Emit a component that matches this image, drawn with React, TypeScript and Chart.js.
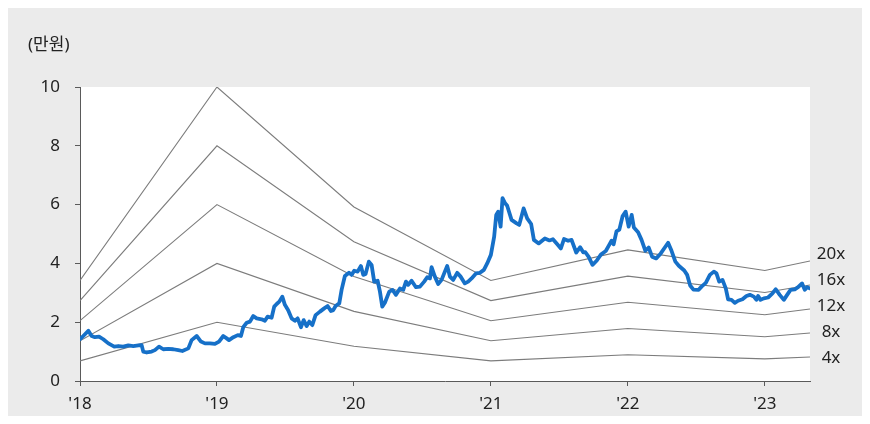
import React, { useEffect, useRef } from "react";
import { Chart, registerables } from "chart.js";

Chart.register(...registerables);

// Year ticks on x axis
const yearTicks = [2018, 2019, 2020, 2021, 2022, 2023];
const xMin = 2018;
const xMax = 2023.33;

// PER band multiples and EPS (만원) at band vertices
const bandMultiples = [4, 8, 12, 16, 20];
const bandYears = [2018.0, 2019.0, 2020.0, 2021.0, 2022.0, 2023.0, 2023.33];
const bandEps = [0.171, 0.5, 0.296, 0.171, 0.223, 0.188, 0.204];

// Share price (만원)
const priceYears = [
  2018.0, 2018.024, 2018.061, 2018.085, 2018.109, 2018.139, 2018.17, 2018.207, 2018.25, 2018.28,
  2018.316, 2018.353, 2018.389, 2018.426, 2018.45, 2018.462, 2018.487, 2018.523, 2018.547, 2018.577,
  2018.608, 2018.645, 2018.681, 2018.718, 2018.747, 2018.791, 2018.815, 2018.852, 2018.883, 2018.912,
  2018.949, 2018.985, 2019.015, 2019.046, 2019.071, 2019.088, 2019.12, 2019.152, 2019.175, 2019.192,
  2019.217, 2019.241, 2019.265, 2019.29, 2019.326, 2019.35, 2019.37, 2019.399, 2019.418, 2019.436,
  2019.455, 2019.477, 2019.496, 2019.52, 2019.545, 2019.569, 2019.589, 2019.613, 2019.633, 2019.655,
  2019.674, 2019.696, 2019.72, 2019.752, 2019.783, 2019.808, 2019.832, 2019.849, 2019.866, 2019.893,
  2019.91, 2019.934, 2019.964, 2019.983, 2020.002, 2020.027, 2020.051, 2020.068, 2020.085, 2020.109,
  2020.129, 2020.148, 2020.173, 2020.19, 2020.207, 2020.226, 2020.258, 2020.282, 2020.307, 2020.336,
  2020.36, 2020.38, 2020.396, 2020.421, 2020.453, 2020.482, 2020.513, 2020.535, 2020.555, 2020.567,
  2020.591, 2020.615, 2020.64, 2020.664, 2020.681, 2020.701, 2020.725, 2020.754, 2020.779, 2020.81,
  2020.834, 2020.859, 2020.891, 2020.92, 2020.949, 2020.973, 2021.0, 2021.024, 2021.039, 2021.053,
  2021.071, 2021.085, 2021.102, 2021.119, 2021.151, 2021.188, 2021.207, 2021.239, 2021.265, 2021.294,
  2021.314, 2021.349, 2021.394, 2021.428, 2021.453, 2021.485, 2021.511, 2021.534, 2021.564, 2021.589,
  2021.623, 2021.652, 2021.674, 2021.69, 2021.714, 2021.742, 2021.772, 2021.803, 2021.839, 2021.863,
  2021.881, 2021.896, 2021.917, 2021.938, 2021.962, 2021.984, 2022.006, 2022.028, 2022.044, 2022.075,
  2022.1, 2022.128, 2022.152, 2022.177, 2022.207, 2022.239, 2022.27, 2022.294, 2022.319, 2022.347,
  2022.372, 2022.412, 2022.433, 2022.455, 2022.479, 2022.517, 2022.538, 2022.569, 2022.599, 2022.628,
  2022.647, 2022.667, 2022.691, 2022.715, 2022.732, 2022.757, 2022.781, 2022.805, 2022.837, 2022.866,
  2022.891, 2022.92, 2022.939, 2022.951, 2022.969, 2022.993, 2023.024, 2023.056, 2023.08, 2023.109,
  2023.139, 2023.163, 2023.188, 2023.219, 2023.243, 2023.272, 2023.292, 2023.309, 2023.328,
];
const priceValues = [
  1.42, 1.53, 1.71, 1.53, 1.49, 1.51, 1.42, 1.28, 1.17, 1.19,
  1.17, 1.21, 1.19, 1.21, 1.22, 1.0, 0.97, 1.0, 1.05, 1.17,
  1.08, 1.09, 1.08, 1.05, 1.02, 1.11, 1.39, 1.53, 1.34, 1.28,
  1.28, 1.26, 1.34, 1.53, 1.45, 1.39, 1.49, 1.56, 1.53, 1.83,
  1.98, 2.02, 2.21, 2.13, 2.1, 2.05, 2.19, 2.15, 2.53, 2.62,
  2.7, 2.87, 2.59, 2.41, 2.13, 2.05, 2.13, 1.83, 2.07, 1.87,
  2.02, 1.9, 2.24, 2.36, 2.47, 2.55, 2.38, 2.41, 2.55, 2.64,
  3.1, 3.57, 3.68, 3.61, 3.75, 3.72, 3.91, 3.61, 3.64, 4.06,
  3.95, 3.38, 3.41, 3.04, 2.53, 2.66, 3.04, 3.1, 2.93, 3.15,
  3.1, 3.38, 3.27, 3.41, 3.19, 3.21, 3.38, 3.53, 3.49, 3.87,
  3.55, 3.3, 3.44, 3.72, 3.91, 3.55, 3.44, 3.68, 3.55, 3.32,
  3.38, 3.49, 3.66, 3.68, 3.78, 4.0, 4.29, 4.91, 5.65, 5.76,
  5.25, 6.22, 6.06, 5.96, 5.48, 5.36, 5.31, 5.87, 5.53, 5.34,
  4.8, 4.68, 4.85, 4.78, 4.82, 4.65, 4.51, 4.83, 4.77, 4.8,
  4.37, 4.55, 4.38, 4.38, 4.22, 3.95, 4.09, 4.3, 4.42, 4.62,
  4.77, 4.65, 5.09, 5.15, 5.61, 5.76, 5.25, 5.65, 5.22, 5.06,
  4.8, 4.43, 4.54, 4.23, 4.17, 4.33, 4.54, 4.7, 4.43, 4.06,
  3.92, 3.76, 3.61, 3.25, 3.11, 3.1, 3.21, 3.34, 3.61, 3.72,
  3.66, 3.38, 3.44, 3.15, 2.78, 2.76, 2.66, 2.73, 2.78, 2.89,
  2.93, 2.87, 2.76, 2.89, 2.76, 2.81, 2.84, 2.98, 3.12, 2.93,
  2.76, 2.93, 3.1, 3.12, 3.19, 3.32, 3.1, 3.19, 3.15,
];

const FONT = "'Noto Sans', 'Noto Sans CJK KR', sans-serif";
const TEXT_COLOR = "#222222";
const AXIS_COLOR = "#5a5a5a";
const BAND_COLOR = "#7c7c7c";
const PRICE_COLOR = "#1670c8";
const BG = "#ebebeb";

const backgroundPlugin = {
  id: "bgPlugin",
  beforeDraw(chart: any) {
    const { ctx, width, height, chartArea } = chart;
    ctx.save();
    ctx.fillStyle = BG;
    ctx.fillRect(0, 0, width, height);
    ctx.fillStyle = "#b4b4b4";
    ctx.fillRect(0, 0, width, 2);
    ctx.fillStyle = "#ffffff";
    ctx.fillRect(chartArea.left, chartArea.top, chartArea.right - chartArea.left, chartArea.bottom - chartArea.top);
    ctx.restore();
  },
  afterDraw(chart: any) {
    const { ctx, chartArea } = chart;
    ctx.save();
    ctx.font = `17px ${FONT}`;
    ctx.fillStyle = TEXT_COLOR;
    ctx.textBaseline = "middle";
    ctx.textAlign = "left";
    ctx.fillText("(만원)", 20, 39);
    // band labels at line ends
    const items: { y: number; text: string }[] = [];
    chart.data.datasets.forEach((ds: any, i: number) => {
      if (!ds.bandLabel) return;
      const meta = chart.getDatasetMeta(i);
      const last = meta.data[meta.data.length - 1];
      items.push({ y: last.y, text: ds.bandLabel });
    });
    items.sort((a, b) => b.y - a.y);
    let prev = Infinity;
    ctx.textAlign = "center";
    items.forEach((it) => {
      const y = Math.min(it.y, prev - 26);
      ctx.fillText(it.text, chartArea.right + 21, y + 1);
      prev = y;
    });
    ctx.restore();
  },
};

export default function App() {
  const ref = useRef<HTMLCanvasElement>(null);

  useEffect(() => {
    if (!ref.current) return;
    const bandSets = bandMultiples.map((m) => ({
      label: `${m}x`,
      bandLabel: `${m}x`,
      data: bandYears.map((yr, i) => ({ x: yr, y: +(bandEps[i] * m).toFixed(3) })),
      borderColor: BAND_COLOR,
      borderWidth: 1.1,
      pointRadius: 0,
      tension: 0,
      order: 1,
    }));
    const priceSet = {
      label: "주가",
      data: priceYears.map((yr, i) => ({ x: yr, y: priceValues[i] })),
      borderColor: PRICE_COLOR,
      borderWidth: 3.8,
      pointRadius: 0,
      tension: 0,
      borderJoinStyle: "round" as const,
      borderCapStyle: "round" as const,
      order: 0,
    };
    const chart = new Chart(ref.current, {
      type: "line",
      data: { datasets: [priceSet as any, ...bandSets] },
      options: {
        responsive: false,
        animation: false,
        devicePixelRatio: 1,
        layout: { padding: { top: 81, right: 60, left: 0, bottom: 0 } },
        plugins: { legend: { display: false }, tooltip: { enabled: false } },
        scales: {
          x: {
            type: "linear",
            min: xMin,
            max: xMax,
            afterFit(scale: any) {
              scale.height = 43;
            },
            afterBuildTicks(scale: any) {
              scale.ticks = yearTicks.map((v) => ({ value: v }));
            },
            ticks: {
              autoSkip: false,
              maxRotation: 0,
              padding: 8,
              color: TEXT_COLOR,
              font: { family: FONT, size: 17 },
              callback: (v: any) => "'" + String(v).slice(2),
            },
            grid: {
              display: true,
              drawOnChartArea: false,
              drawTicks: true,
              tickLength: 5,
              color: AXIS_COLOR,
            },
            border: { display: true, color: AXIS_COLOR, width: 1 },
          },
          y: {
            min: 0,
            max: 10,
            afterFit(scale: any) {
              scale.width = 72;
            },
            ticks: {
              stepSize: 2,
              padding: 15,
              color: TEXT_COLOR,
              font: { family: FONT, size: 17 },
            },
            grid: {
              display: true,
              drawOnChartArea: false,
              drawTicks: true,
              tickLength: 5,
              color: AXIS_COLOR,
            },
            border: { display: true, color: AXIS_COLOR, width: 1 },
          },
        },
      },
      plugins: [backgroundPlugin],
    });
    return () => chart.destroy();
  }, []);

  return (
    <div style={{ marginTop: -2, marginBottom: -8, width: 854 }}>
      <canvas ref={ref} width={862} height={418} style={{ display: "block", width: 862, height: 418 }} />
    </div>
  );
}
